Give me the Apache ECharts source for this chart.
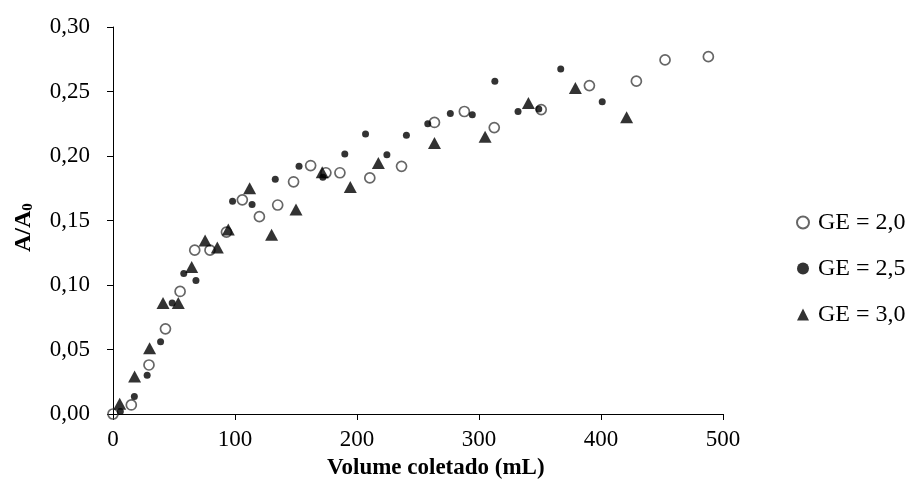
<!DOCTYPE html>
<html>
<head>
<meta charset="utf-8">
<script src="https://cdn.jsdelivr.net/npm/echarts@6/dist/echarts.min.js"></script>
<style>html,body{margin:0;padding:0;background:#fff;}#c{width:911px;height:496px;}</style>
</head>
<body>
<div id="c"></div>
<script>
// GE = 2,0 (open circles)
const ge20_x = [0, 15, 29.5, 43, 55, 67, 79.5, 93, 106, 120, 135, 148, 162, 174.5, 186, 210.5, 236.5, 263.5, 288, 312.5, 351, 390.5, 429, 452.5, 488];
const ge20_y = [0.000, 0.007, 0.038, 0.066, 0.095, 0.127, 0.127, 0.141, 0.166, 0.153, 0.162, 0.180, 0.1926, 0.187, 0.187, 0.183, 0.192, 0.226, 0.2345, 0.222, 0.236, 0.2546, 0.258, 0.2745, 0.277];
// GE = 2,5 (filled dots)
const ge25_x = [6, 17.5, 28, 39, 48.5, 58, 68, 98, 114, 133, 152.5, 172, 190, 207, 224.5, 240.5, 258, 276.5, 294.5, 313, 332, 349, 367, 401];
const ge25_y = [0.002, 0.0135, 0.030, 0.056, 0.086, 0.109, 0.1035, 0.165, 0.1625, 0.182, 0.192, 0.1835, 0.2015, 0.217, 0.201, 0.216, 0.225, 0.233, 0.232, 0.258, 0.2345, 0.2365, 0.2675, 0.242];
// GE = 3,0 (filled triangles)
const ge30_x = [5.5, 17.7, 30, 41, 53.5, 64.5, 75.5, 85.5, 94.5, 112, 130, 150, 171.5, 194.5, 217.5, 263.5, 305, 340.5, 379, 421];
const ge30_y = [0.008, 0.029, 0.051, 0.086, 0.086, 0.114, 0.1345, 0.129, 0.143, 0.175, 0.139, 0.1585, 0.1875, 0.176, 0.1945, 0.210, 0.215, 0.241, 0.2528, 0.230];

const seriesNames = ['GE = 2,0', 'GE = 2,5', 'GE = 3,0'];
const xTitle = 'Volume coletado (mL)';

const zip = (xs, ys) => xs.map((x, i) => [x, ys[i]]);
const FONT = '"Liberation Serif", "Times New Roman", serif';

const chart = echarts.init(document.getElementById('c'), null, {renderer: 'canvas'});
chart.setOption({
  animation: false,
  backgroundColor: '#ffffff',
  grid: {left: 113, right: 188, top: 27, bottom: 82, containLabel: false},
  xAxis: {
    type: 'value', min: 0, max: 500, interval: 100,
    axisLine: {show: true, lineStyle: {color: '#000', width: 1}},
    axisTick: {show: true, inside: false, length: 6, lineStyle: {color: '#000'}},
    axisLabel: {color: '#000', fontFamily: FONT, fontSize: 23, margin: 14},
    splitLine: {show: false}
  },
  yAxis: {
    type: 'value', min: 0, max: 0.30, interval: 0.05,
    axisLine: {show: true, lineStyle: {color: '#000', width: 1}},
    axisTick: {show: true, inside: false, length: 6, lineStyle: {color: '#000'}},
    axisLabel: {color: '#000', fontFamily: FONT, fontSize: 23, margin: 23,
      formatter: v => v.toFixed(2).replace('.', ',')},
    splitLine: {show: false}
  },
  legend: {
    orient: 'vertical', left: 791, top: 205,
    itemWidth: 12, itemHeight: 12, itemGap: 21,
    textStyle: {color: '#000', fontFamily: FONT, fontSize: 24, lineHeight: 25, padding: [0, 0, 0, 4]},
    data: seriesNames
  },
  graphic: [
    {type: 'text', left: 327, top: 457,
      style: {text: xTitle, fill: '#000', font: 'bold 23px ' + FONT}},
    {type: 'text', x: 12, y: 252, rotation: Math.PI / 2,
      style: {text: '{a|A/A}{s|0}', fill: '#000',
        rich: {a: {fontFamily: FONT, fontWeight: 'bold', fontSize: 24, fill: '#000'},
               s: {fontFamily: FONT, fontWeight: 'bold', fontSize: 15, fill: '#000', padding: [9, 0, 0, 0]}}}}
  ],
  series: [
    {name: seriesNames[0], type: 'scatter', data: zip(ge20_x, ge20_y), symbol: 'circle', symbolSize: 10,
      itemStyle: {color: 'rgba(255,255,255,0)', borderColor: '#404040', borderWidth: 1.7}, z: 2},
    {name: seriesNames[1], type: 'scatter', data: zip(ge25_x, ge25_y), symbol: 'circle', symbolSize: 7,
      itemStyle: {color: '#000'}, z: 3},
    {name: seriesNames[2], type: 'scatter', data: zip(ge30_x, ge30_y), symbol: 'triangle', symbolSize: [13, 12],
      itemStyle: {color: '#000'}, z: 4}
  ]
});
</script>
</body>
</html>
